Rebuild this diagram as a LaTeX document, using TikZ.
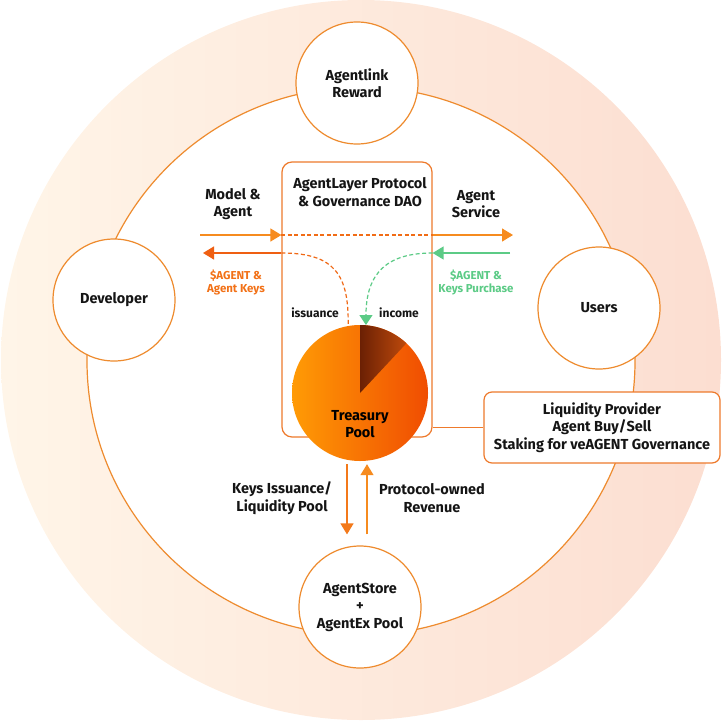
\documentclass[tikz,border=0pt]{standalone}
\usepackage{fontspec}
\setmainfont{Fira Sans}
\usetikzlibrary{arrows.meta,positioning}
\definecolor{peachL}{HTML}{FFF5E8}
\definecolor{peachR}{HTML}{FCDED1}
\definecolor{ringc}{HTML}{EE8B2E}
\definecolor{boxc}{HTML}{EE7A2C}
\definecolor{flowc}{HTML}{F68B1F}
\definecolor{keysc}{HTML}{EF5F12}
\definecolor{buyc}{HTML}{5CCB86}
\definecolor{pieL}{HTML}{FF9B05}
\definecolor{pieR}{HTML}{F04D02}
\definecolor{sliceL}{HTML}{6B2004}
\definecolor{sliceR}{HTML}{BE4A0C}
\definecolor{ink}{HTML}{151515}

\begin{document}
\begin{tikzpicture}[x=1pt, y=-1pt,
  font=\bfseries\fontsize{14.5}{17.5}\selectfont, text=ink,
  hub/.style={circle, draw=ringc, line width=1.2pt, fill=white, minimum size=122pt, align=center},
  txt/.style={align=center, inner sep=0pt},
  small/.style={txt, font=\bfseries\fontsize{11.5}{13}\selectfont},
  flow/.style={line width=1.3pt, -{Triangle[length=11pt,width=13pt]}},
  dashline/.style={line width=1.2pt, dash pattern=on 4pt off 2.5pt}
]
\useasboundingbox (0,0) rectangle (722,720);
\shade[left color=peachL, right color=peachR] (361,360) circle[radius=360];
\draw[ringc, line width=1.2pt, fill=white] (361,361) circle[radius=274];

\node[hub] (reward) at (357,83) {Agentlink\\Reward};
\node[hub] (dev) at (114,300) {Developer};
\node[hub] (users) at (599,308) {Users};
\node[hub] (store) at (360,607) {AgentStore\\+\\AgentEx Pool};

\node[draw=boxc, line width=1.2pt, rounded corners=10pt, minimum width=150pt, minimum height=275pt] (dao) at (357,299.5) {};
\node[txt, below=16pt of dao.north, xshift=3pt] (title) {AgentLayer Protocol\\\& Governance DAO};

\coordinate (model) at (200,235);
\coordinate (service) at (513,235);
\coordinate (keys) at (203,253);
\coordinate (buy) at (510,253);
\draw[flow, flowc] (model) -- (model -| dao.west);
\draw[dashline, keysc!70!flowc] (model -| dao.west) -- (model -| dao.east);
\draw[flow, flowc] (model -| dao.east) -- (service);
\draw[flow, keysc] (keys -| dao.west) -- (keys);
\draw[flow, buyc] (buy) -- (buy -| dao.east);
\node[txt] (modeltxt) at (233,204) {Model \&\\Agent};
\node[txt] (servicetxt) at (476,204) {Agent\\Service};
\node[small, text=keysc!60!flowc] (keystxt) at (236,282) {\$AGENT \&\\Agent Keys};
\node[small, text=buyc] (buytxt) at (476,282) {\$AGENT \&\\Keys Purchase};

\node[circle, minimum size=136pt, inner sep=0pt, left color=pieL, right color=pieR] (pool) at (360,393) {};
\begin{scope}[shift={(pool.center)}, y=1pt]
  \shade[left color=sliceL, right color=sliceR] (0,0) -- (90:68) arc[start angle=90, end angle=47, radius=68] -- cycle;
\end{scope}
\node[txt, text=black] (pooltxt) at (360,424) {Treasury\\Pool};

\draw[dashline, keysc!80!flowc] (keys -| dao.west) .. controls (335,253) and (349,275) .. (pool.100);
\draw[dashline, buyc, -{Triangle[length=10pt,width=13pt]}] (buy -| dao.east) .. controls (388,253) and (366,272) .. (pool.85);
\node[small, font=\bfseries\fontsize{12}{13}\selectfont] (iss) at (315,313) {issuance};
\node[small, font=\bfseries\fontsize{12}{13}\selectfont] (inc) at (399,313) {income};

\node[draw=boxc, line width=1.2pt, fill=white, rounded corners=8pt, minimum width=236pt, minimum height=71pt, align=center] (lp) at (602,427.5) {Liquidity Provider\\Agent Buy/Sell\\Staking for veAGENT Governance};
\draw[boxc, line width=1.2pt] (lp.west) -- (lp.west -| dao.east);

\draw[flow, flowc!60!keysc] ([xshift=-13pt,yshift=-3pt]pool.south) -- ([xshift=-13pt,yshift=11pt]store.north);
\draw[flow, flowc] ([xshift=7pt,yshift=11pt]store.north) -- ([xshift=7pt,yshift=-3pt]pool.south);
\node[txt] (issuetxt) at (282,498) {Keys Issuance/\\Liquidity Pool};
\node[txt] (revtxt) at (432,498) {Protocol-owned\\Revenue};
\end{tikzpicture}
\end{document}
